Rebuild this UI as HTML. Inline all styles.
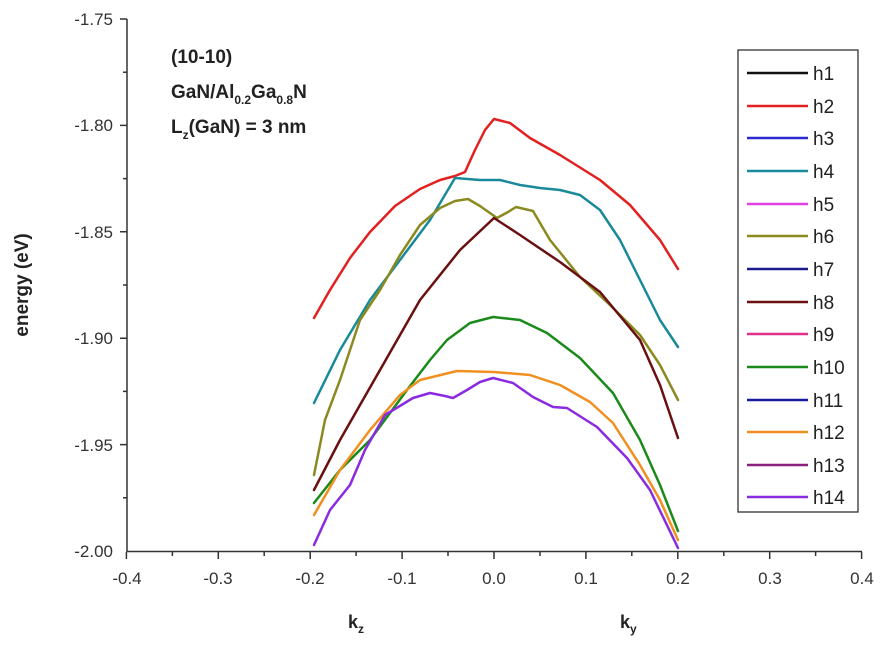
<!DOCTYPE html><html><head><style>body{margin:0;background:#fff}svg{display:block}text{font-family:"Liberation Sans",Arial,sans-serif}</style></head><body>
<svg width="885" height="653" viewBox="0 0 885 653" xmlns="http://www.w3.org/2000/svg">
<g stroke="#333" stroke-width="1.5" fill="none">
<line x1="127" y1="19" x2="127" y2="552"/><line x1="127" y1="551.5" x2="862" y2="551.5"/>
<path d="M120 19h7M120 125.4h7M120 231.8h7M120 338.2h7M120 444.6h7M123 72.2h4M123 178.6h4M123 285h4M123 391.4h4M123 497.8h4"/>
<path d="M126.4 552v7M218.3 552v7M310.2 552v7M402.1 552v7M494 552v7M585.9 552v7M677.8 552v7M769.7 552v7M861.6 552v7M172.4 552v4M264.2 552v4M356.1 552v4M448 552v4M540 552v4M631.8 552v4M723.8 552v4M815.6 552v4"/>
</g>
<g font-size="17" fill="#333" text-anchor="end">
<text x="113" y="25">-1.75</text><text x="113" y="131">-1.80</text><text x="113" y="238">-1.85</text><text x="113" y="344">-1.90</text><text x="113" y="451">-1.95</text><text x="113" y="557">-2.00</text>
</g>
<g font-size="17" fill="#333" text-anchor="middle">
<text x="127" y="584">-0.4</text><text x="218" y="584">-0.3</text><text x="310" y="584">-0.2</text><text x="402" y="584">-0.1</text><text x="494" y="584">0.0</text><text x="586" y="584">0.1</text><text x="678" y="584">0.2</text><text x="770" y="584">0.3</text><text x="862" y="584">0.4</text>
</g>
<text transform="translate(28,285) rotate(-90)" font-size="19" font-weight="bold" text-anchor="middle" fill="#222">energy (eV)</text>
<text x="348" y="628" font-size="18" font-weight="bold" fill="#222">k<tspan font-size="12" dy="5">z</tspan></text>
<text x="620" y="628" font-size="18" font-weight="bold" fill="#222">k<tspan font-size="12" dy="5">y</tspan></text>
<g font-size="19" font-weight="bold" fill="#222">
<text x="171" y="63">(10-10)</text>
<text x="171" y="98">GaN/Al<tspan font-size="12" dy="6">0.2</tspan><tspan dy="-6">Ga</tspan><tspan font-size="12" dy="6">0.8</tspan><tspan dy="-6">N</tspan></text>
<text x="171" y="133">L<tspan font-size="12" dy="6">z</tspan><tspan dy="-6">(GaN) = 3 nm</tspan></text>
</g>
<g fill="none" stroke-width="2.5" stroke-linejoin="round" stroke-linecap="round">
<polyline stroke="#e32020" points="314,318 330,290 350,258 370,232 395,206 420,189 440,180 455,176 465,172 475,150 485,130 494,119 510,123 530,138 560,155 600,180 630,205 660,240 678,269"/>
<polyline stroke="#1a8a9a" points="314,403 340,350 370,300 400,260 430,220 455,178 480,180 500,180 520,185 540,188 560,190 580,195 600,210 620,240 640,280 660,320 678,347"/>
<polyline stroke="#8a8a20" points="314,475 325,420 340,380 360,320 380,290 400,255 420,225 440,208 455,201 468,199 480,206 497,218 508,212 516,207 533,211 550,240 580,277 610,305 640,335 660,365 678,400"/>
<polyline stroke="#6a1010" points="314,490 340,440 380,370 420,300 460,250 494,218 520,235 560,262 600,292 640,340 660,385 678,438"/>
<polyline stroke="#1a8a1a" points="314,503 340,470 370,440 407,390 430,360 447,340 470,323 493,317 520,320 547,333 580,358 613,393 640,440 660,485 678,531"/>
<polyline stroke="#f09020" points="314,515 340,470 370,430 400,395 420,380 457,371 494,372 530,375 560,385 590,402 613,423 640,465 660,500 678,540"/>
<polyline stroke="#8a2be2" points="314,545 330,510 350,485 365,450 385,415 413,398 430,393 445,396 453,398 467,390 480,382 493,378 513,383 533,397 553,407 567,408 597,427 627,458 650,490 678,548"/>
</g>
<rect x="738" y="50" width="120" height="462" fill="#fff" stroke="#333" stroke-width="1.3"/>
<g stroke-width="2.5">
<line x1="747" y1="73" x2="808" y2="73" stroke="#111"/>
<line x1="747" y1="106" x2="808" y2="106" stroke="#e32020"/>
<line x1="747" y1="138" x2="808" y2="138" stroke="#2a2ad0"/>
<line x1="747" y1="171" x2="808" y2="171" stroke="#1a8a9a"/>
<line x1="747" y1="204" x2="808" y2="204" stroke="#e040e0"/>
<line x1="747" y1="236" x2="808" y2="236" stroke="#8a8a20"/>
<line x1="747" y1="269" x2="808" y2="269" stroke="#1a1a8a"/>
<line x1="747" y1="302" x2="808" y2="302" stroke="#6a1010"/>
<line x1="747" y1="334" x2="808" y2="334" stroke="#e0308a"/>
<line x1="747" y1="367" x2="808" y2="367" stroke="#1a8a1a"/>
<line x1="747" y1="400" x2="808" y2="400" stroke="#1a1aa0"/>
<line x1="747" y1="432" x2="808" y2="432" stroke="#f09020"/>
<line x1="747" y1="465" x2="808" y2="465" stroke="#8a2080"/>
<line x1="747" y1="497" x2="808" y2="497" stroke="#8a2be2"/>
</g>
<g font-size="19" fill="#222">
<text x="813" y="80">h1</text><text x="813" y="113">h2</text><text x="813" y="145">h3</text><text x="813" y="178">h4</text><text x="813" y="211">h5</text><text x="813" y="243">h6</text><text x="813" y="276">h7</text><text x="813" y="309">h8</text><text x="813" y="341">h9</text><text x="813" y="374">h10</text><text x="813" y="407">h11</text><text x="813" y="439">h12</text><text x="813" y="472">h13</text><text x="813" y="504">h14</text>
</g>
</svg></body></html>
